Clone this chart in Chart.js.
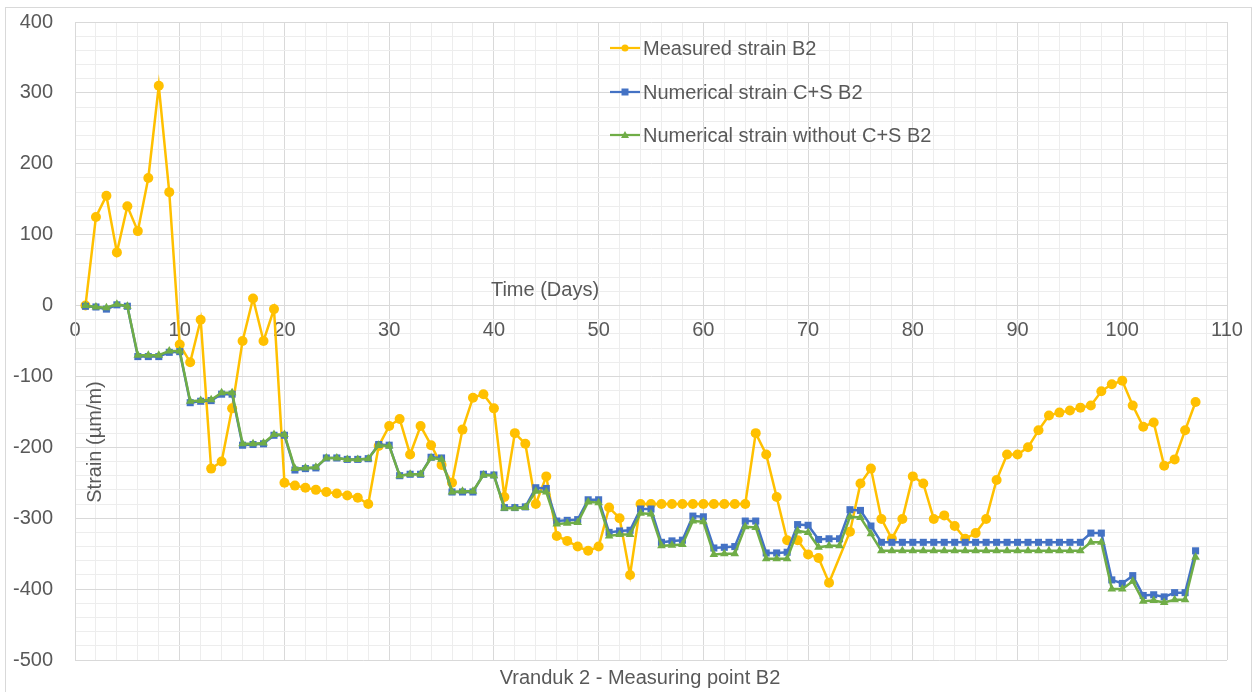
<!DOCTYPE html>
<html>
<head>
<meta charset="utf-8">
<title>Vranduk 2 - Measuring point B2</title>
<script src="https://cdn.jsdelivr.net/npm/chart.js@4/dist/chart.umd.min.js"></script>
<style>
    html, body { margin: 0; padding: 0; background: #ffffff; }
    #chart_b2 { display: block; }
</style>
</head>
<body>
<canvas id="chart_b2" width="1256" height="692"></canvas>
<script>
'use strict';

/******************************************************************************************
DATA
******************************************************************************************/

var days = [
    1, 2, 3, 4, 5, 6, 7, 8, 9, 10, 11, 12, 13, 14, 15, 16, 17, 18, 19, 20,
    21, 22, 23, 24, 25, 26, 27, 28, 29, 30, 31, 32, 33, 34, 35, 36, 37, 38, 39, 40,
    41, 42, 43, 44, 45, 46, 47, 48, 49, 50, 51, 52, 53, 54, 55, 56, 57, 58, 59, 60,
    61, 62, 63, 64, 65, 66, 67, 68, 69, 70, 71, 72, 73, 74, 75, 76, 77, 78, 79, 80,
    81, 82, 83, 84, 85, 86, 87, 88, 89, 90, 91, 92, 93, 94, 95, 96, 97, 98, 99, 100,
    101, 102, 103, 104, 105, 106, 107
];

// measured strain, day 73 has no reading
var measured_b2 = [
    0, 125, 155, 75, 140, 105, 180, 310, 160, -55, -80, -20, -230, -220, -145, -50, 10, -50, -5, -250,
    -254, -257, -260, -263, -265, -268, -271, -280, -198, -170, -160, -210, -170, -197, -225, -250, -175, -130, -125, -145,
    -270, -180, -195, -280, -241, -325, -332, -340, -346, -340, -285, -300, -380, -280, -280, -280, -280, -280, -280, -280,
    -280, -280, -280, -280, -180, -210, -270, -331, -331, -351, -356, -391, null, -319, -251, -230, -301, -329, -301, -241,
    -251, -301, -296, -311, -329, -321, -301, -246, -210, -210, -200, -176, -155, -151, -148, -144, -141, -121, -111, -106,
    -141, -171, -165, -226, -217, -176, -136
];

var numerical_cs_b2 = [
    -1, -2, -5, 1, -1, -72, -72, -72, -66, -65, -137, -135, -134, -125, -125, -197, -196, -195, -183, -183,
    -232, -230, -229, -215, -215, -217, -217, -216, -196, -197, -240, -238, -238, -214, -215, -263, -263, -263, -238, -239,
    -285, -285, -284, -257, -258, -304, -303, -302, -274, -274, -320, -318, -317, -287, -287, -334, -332, -331, -297, -298,
    -342, -341, -340, -304, -304, -349, -349, -348, -309, -310, -330, -329, -329, -288, -289, -311, -334, -334, -334, -334,
    -334, -334, -334, -334, -334, -334, -334, -334, -334, -334, -334, -334, -334, -334, -334, -334, -321, -321, -387, -392,
    -381, -409, -408, -411, -405, -405, -346
];

var numerical_no_cs_b2 = [
    0, -2, -3, 2, -1, -70, -70, -70, -64, -64, -135, -134, -133, -123, -123, -195, -195, -194, -182, -182,
    -230, -229, -228, -215, -215, -217, -217, -216, -197, -198, -240, -238, -238, -215, -217, -263, -262, -262, -239, -240,
    -286, -286, -285, -262, -263, -308, -307, -306, -277, -278, -325, -323, -323, -293, -294, -339, -338, -337, -304, -305,
    -351, -350, -350, -312, -313, -357, -357, -357, -318, -320, -341, -339, -339, -298, -299, -322, -346, -346, -346, -346,
    -346, -346, -346, -346, -346, -346, -346, -346, -346, -346, -346, -346, -346, -346, -346, -346, -334, -334, -400, -400,
    -389, -417, -416, -419, -415, -415, -355
];

var x_tick_labels = [0, 10, 20, 30, 40, 50, 60, 70, 80, 90, 100, 110];
var y_tick_labels = [-500, -400, -300, -200, -100, 0, 100, 200, 300, 400];

var series_names = ['Measured strain B2', 'Numerical strain C+S B2', 'Numerical strain without C+S B2'];




/******************************************************************************************
STYLE
******************************************************************************************/

var FONT_FAMILY = '"Liberation Sans", Arial, sans-serif';
var TEXT_COLOR = '#595959';
var GRID_MAJOR = '#d9d9d9';
var GRID_MINOR = '#ededed';

var COLOR_MEASURED = '#ffc000';
var COLOR_CS = '#4472c4';
var COLOR_NO_CS = '#70ad47';


// build {x, y} pairs for the linear x axis
function to_points(values) {
    return days.map(function(day, i) {
        return { x: day, y: values[i] };
    });
}




/******************************************************************************************
EXTRA TEXT (frame, axis titles inside the plot, legend, caption)
******************************************************************************************/

var extra_text_plugin = {
    id: 'extra_text',
    beforeDraw: function(chart) {
        var ctx = chart.ctx;
        ctx.save();
        ctx.strokeStyle = '#d9d9d9';
        ctx.lineWidth = 1;
        ctx.strokeRect(5.5, 7.5, 1246, 700);                                                  // outer frame
        ctx.restore();
    },
    afterDraw: function(chart) {
        var ctx = chart.ctx;
        ctx.save();
        ctx.fillStyle = TEXT_COLOR;
        ctx.font = '20px ' + FONT_FAMILY;
        ctx.textBaseline = 'middle';

        // x axis title sits above the axis line
        ctx.textAlign = 'center';
        ctx.fillText('Time (Days)', 545, 290);

        // caption under the plot
        ctx.fillText('Vranduk 2 - Measuring point B2', 640, 678);

        // y axis title, rotated, inside the plot
        ctx.save();
        ctx.translate(95, 442);
        ctx.rotate(-Math.PI / 2);
        ctx.fillText('Strain (\u00b5m/m)', 0, 0);
        ctx.restore();

        // legend
        var legend_rows = [
            { name: series_names[0], color: COLOR_MEASURED, style: 'circle', y: 48 },
            { name: series_names[1], color: COLOR_CS, style: 'rect', y: 92 },
            { name: series_names[2], color: COLOR_NO_CS, style: 'triangle', y: 135 }
        ];
        legend_rows.forEach(function(row) {
            ctx.strokeStyle = row.color;
            ctx.lineWidth = 2.25;
            ctx.beginPath();
            ctx.moveTo(610, row.y);
            ctx.lineTo(640, row.y);
            ctx.stroke();
            ctx.fillStyle = row.color;
            ctx.beginPath();
            if (row.style === 'circle') {
                ctx.arc(625, row.y, 3.5, 0, Math.PI * 2);
            } else if (row.style === 'rect') {
                ctx.rect(621.5, row.y - 3.5, 7, 7);
            } else {
                ctx.moveTo(625, row.y - 4);
                ctx.lineTo(629, row.y + 3);
                ctx.lineTo(621, row.y + 3);
                ctx.closePath();
            }
            ctx.fill();
            ctx.fillStyle = TEXT_COLOR;
            ctx.textAlign = 'left';
            ctx.fillText(row.name, 643, row.y + 1);
        });

        ctx.restore();
    }
};




/******************************************************************************************
CHART
******************************************************************************************/

function draw_chart() {
    var ctx = document.getElementById('chart_b2').getContext('2d');
    var chart = new Chart(ctx, {
        type: 'line',
        data: {
            datasets: [{
                label: series_names[0],
                data: to_points(measured_b2),
                borderColor: COLOR_MEASURED,
                backgroundColor: COLOR_MEASURED,
                borderWidth: 2.5,
                pointStyle: 'circle',
                pointRadius: 5,
                pointBorderWidth: 0,
                spanGaps: true,
                order: 2
            }, {
                label: series_names[1],
                data: to_points(numerical_cs_b2),
                borderColor: COLOR_CS,
                backgroundColor: COLOR_CS,
                borderWidth: 2.5,
                pointStyle: 'rect',
                pointRadius: 5,
                pointBorderWidth: 0,
                order: 1
            }, {
                label: series_names[2],
                data: to_points(numerical_no_cs_b2),
                borderColor: COLOR_NO_CS,
                backgroundColor: COLOR_NO_CS,
                borderWidth: 2.5,
                pointStyle: 'triangle',
                pointRadius: 5,
                pointBorderWidth: 0,
                order: 0
            }]
        },
        options: {
            responsive: false,
            animation: false,
            devicePixelRatio: 1,
            layout: {
                padding: { left: 0, top: 22, right: 29, bottom: 32 }
            },
            plugins: {
                legend: { display: false },
                tooltip: { enabled: false },
                title: { display: false }
            },
            scales: {
                x: {
                    type: 'linear',
                    min: 0,
                    max: 110,
                    position: { y: 0 },                                                        // axis crosses at zero strain
                    afterFit: function(scale) { scale.height = 0; },
                    border: { display: true, color: GRID_MAJOR, width: 1 },
                    grid: {
                        drawTicks: true,
                        tickLength: 13,                                                        // invisible ticks push labels down
                        tickColor: 'rgba(0,0,0,0)',
                        color: function(c) {
                            return (c.tick && c.tick.value % 10 === 0) ? GRID_MAJOR : GRID_MINOR;
                        }
                    },
                    ticks: {
                        stepSize: 2,
                        autoSkip: false,
                        maxRotation: 0,
                        padding: 0,
                        color: TEXT_COLOR,
                        font: { family: FONT_FAMILY, size: 20 },
                        callback: function(value) {
                            return x_tick_labels.indexOf(value) >= 0 ? String(value) : '';
                        }
                    }
                },
                y: {
                    min: -500,
                    max: 400,
                    afterFit: function(scale) { scale.width = 75; },
                    border: { display: true, color: GRID_MAJOR, width: 1 },
                    grid: {
                        drawTicks: true,
                        tickLength: 22,
                        tickColor: 'rgba(0,0,0,0)',
                        color: function(c) {
                            return (c.tick && c.tick.value % 100 === 0) ? GRID_MAJOR : GRID_MINOR;
                        }
                    },
                    ticks: {
                        stepSize: 20,
                        autoSkip: false,
                        padding: 0,
                        color: TEXT_COLOR,
                        font: { family: FONT_FAMILY, size: 20 },
                        callback: function(value) {
                            return y_tick_labels.indexOf(value) >= 0 ? String(value) : '';
                        }
                    }
                }
            }
        },
        plugins: [extra_text_plugin]
    });
    return chart;
}

draw_chart();
</script>
</body>
</html>
